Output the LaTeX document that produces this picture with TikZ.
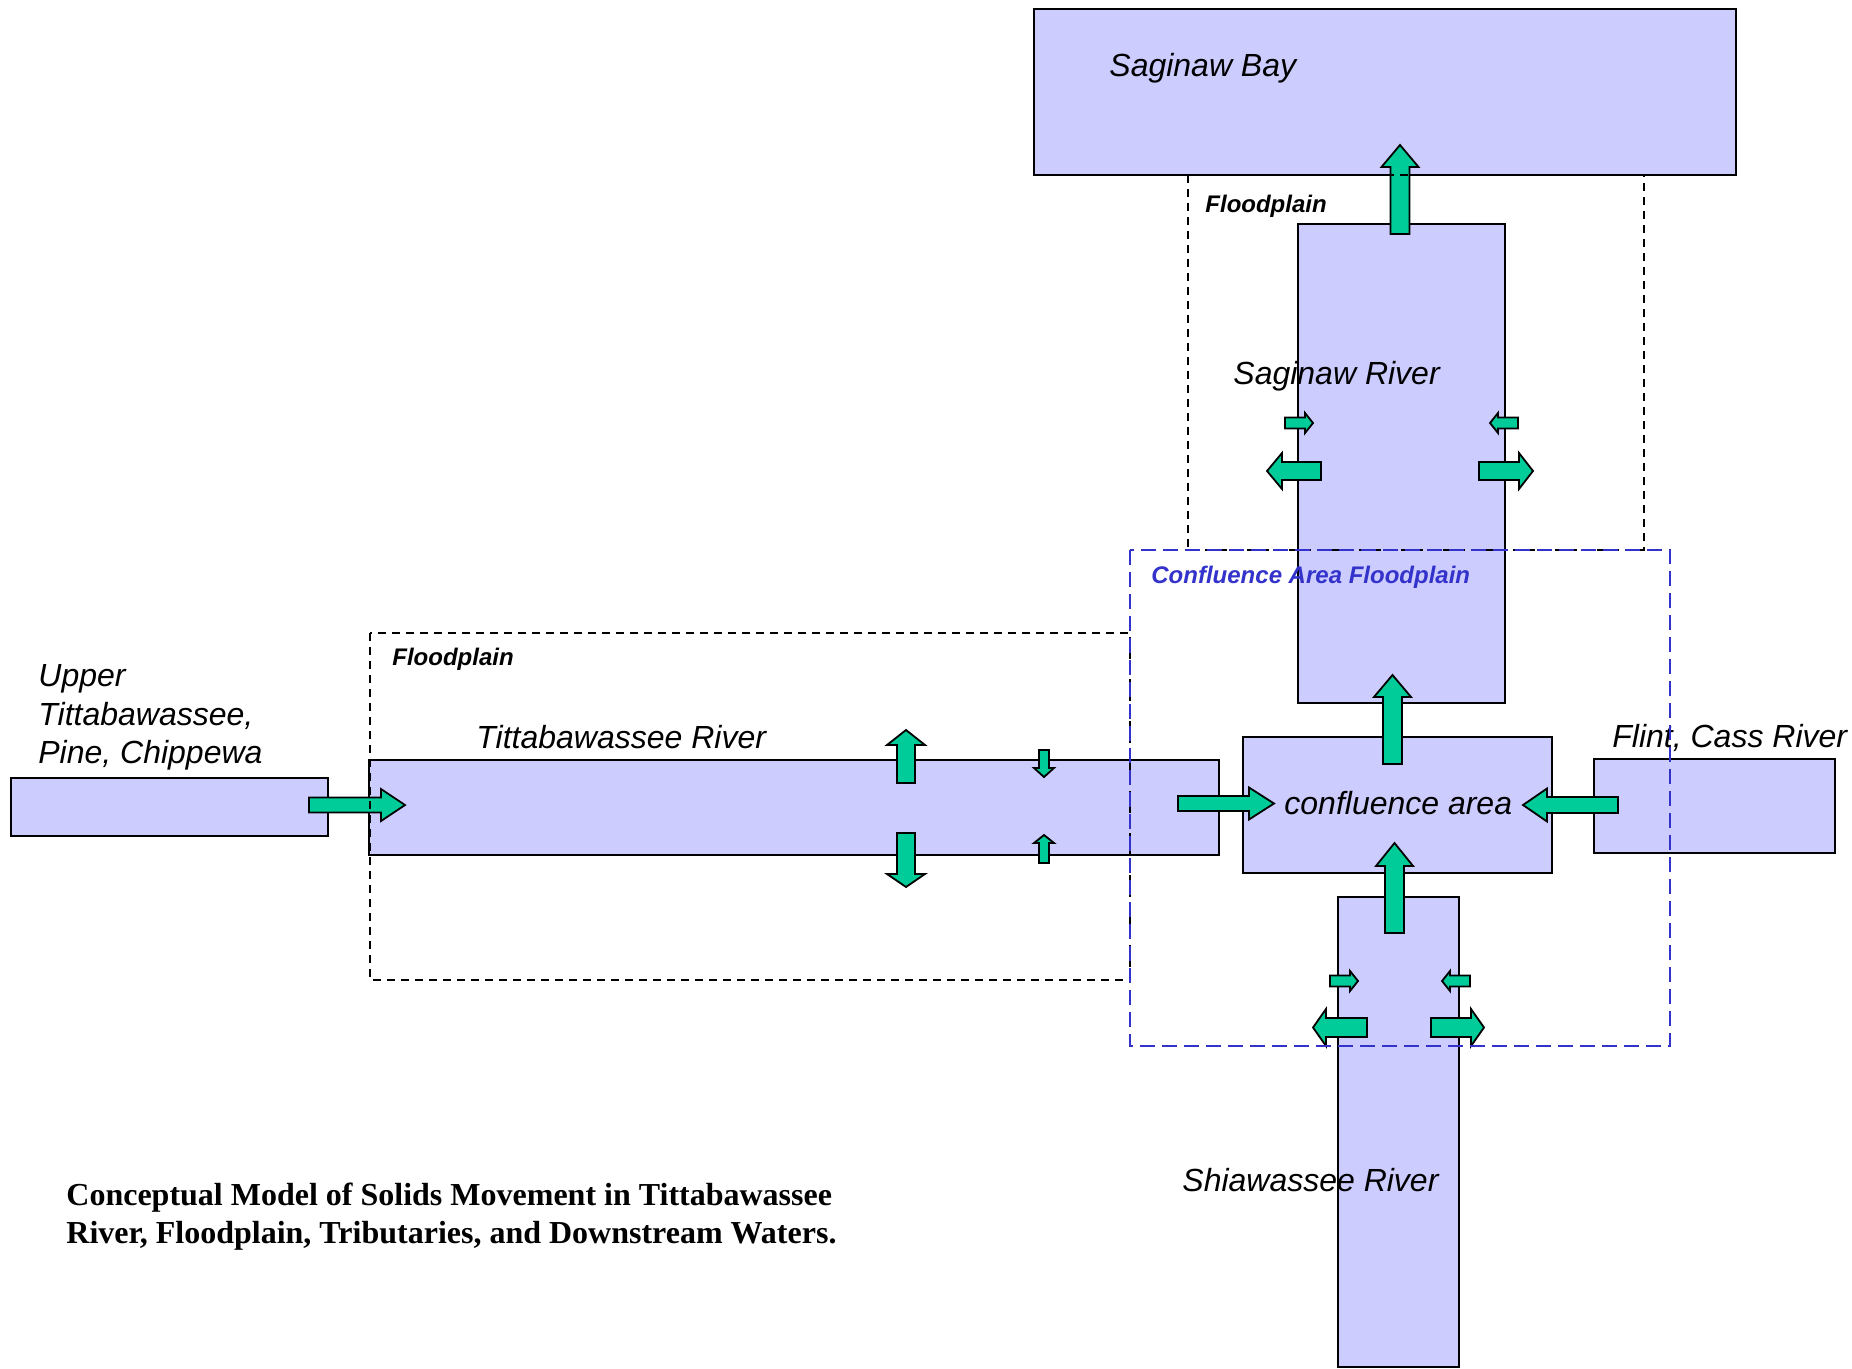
\documentclass[tikz,border=0pt]{standalone}
\usepackage{fontspec}
\setmainfont{Liberation Sans}
\newfontfamily\capfont{Liberation Serif}
\definecolor{boxfill}{HTML}{CCCCFF}
\definecolor{arrowgreen}{HTML}{00CC99}
\definecolor{fpblue}{HTML}{3333CC}
\tikzset{
  riverbox/.style={draw=black, fill=boxfill, line width=1pt, inner sep=0pt, outer sep=0pt},
  arrowfill/.style={draw=black, fill=arrowgreen, line width=0.9pt, line join=miter},
  fpblack/.style={draw=black, line width=0.9pt, dash pattern=on 3.8pt off 3.2pt},
  fpblueline/.style={draw=fpblue, line width=1.1pt, dash pattern=on 7.5pt off 3.5pt},
  lbl/.style={inner sep=0pt, anchor=base west, font=\fontsize{16}{19}\selectfont\itshape},
  fplbl/.style={inner sep=0pt, anchor=base west, font=\fontsize{12}{14}\selectfont\bfseries\itshape},
  caplbl/.style={inner sep=0pt, anchor=base west, font=\fontsize{16}{19}\selectfont\capfont\bfseries}
}
% #1 name, #2 x1, #3 y1, #4 x2, #5 y2  (pixel coords, y down)
\newcommand\rbox[5]{\node[riverbox, minimum width={(#4-#2)*0.5pt}, minimum height={(#5-#3)*0.5pt}] (#1) at ({(#2+#4)/2},{(#3+#5)/2}) {};}
% #1 tail coord, #2 angle, #3 length, #4 shaft width, #5 head width, #6 head length
\newcommand\barrow[6]{\begin{scope}[shift={#1},rotate=#2]
\draw[arrowfill] (0,{-#4/2}) -- ({#3-#6},{-#4/2}) -- ({#3-#6},{-#5/2}) -- (#3,0) -- ({#3-#6},{#5/2}) -- ({#3-#6},{#4/2}) -- (0,{#4/2}) -- cycle;
\end{scope}}
\begin{document}
\begin{tikzpicture}[x=0.5pt,y=-0.5pt]
\useasboundingbox (0,0) rectangle (1852,1369);
% boxes
\rbox{bay}{1034}{9}{1736}{175}
\rbox{sagr}{1298}{224}{1505}{703}
\rbox{upper}{11}{778}{328}{836}
\rbox{titt}{369}{760}{1219}{855}
\rbox{conf}{1243}{737}{1552}{873}
\rbox{flint}{1594}{759}{1835}{853}
\rbox{shia}{1338}{897}{1459}{1367}
% arrows
\barrow{(1400,234)}{90}{89}{19}{37}{22}
\barrow{(1285,423)}{0}{28}{11}{20}{8}
\barrow{(1518,423)}{180}{28}{11}{20}{8}
\barrow{(1321,471)}{180}{54}{18}{36}{15}
\barrow{(1479,471)}{0}{54}{18}{36}{14}
\barrow{(309,805)}{0}{96}{15}{32}{24}
\barrow{(906,783)}{90}{53}{18}{38}{15}
\barrow{(906,833)}{-90}{54}{18}{38}{13}
\barrow{(1044,750)}{-90}{27}{10}{20}{9}
\barrow{(1044,863)}{90}{28}{10}{20}{8}
\barrow{(1178,803.5)}{0}{96}{15}{32}{25}
\barrow{(1618,805)}{180}{95}{16}{33}{24}
\barrow{(1392.5,764)}{90}{89}{19}{37}{22}
\barrow{(1394.5,933)}{90}{90}{19}{37}{23}
\barrow{(1330,981)}{0}{28}{11}{20}{8}
\barrow{(1470,981)}{180}{28}{11}{20}{8}
\barrow{(1367,1027.5)}{180}{54}{19}{37}{13}
\barrow{(1431,1027.5)}{0}{53}{19}{37}{13}
% labels
\node[lbl] (tbay) at (1109,77) {Saginaw Bay};
\node[lbl] (tsagr) at (1233,385) {Saginaw River};
\node[lbl] (ttitt) at (476,748) {Tittabawassee River};
\node[lbl] (tconf) at (1284,814) {confluence area};
\node[lbl] (tflint) at (1612,747) {Flint, Cass River};
\node[lbl] (tshia) at (1182,1191) {Shiawassee River};
\node[lbl] (tup1) at (38,686) {Upper};
\node[lbl] (tup2) at (38,725) {Tittabawassee,};
\node[lbl] (tup3) at (38,763) {Pine, Chippewa};
\node[fplbl] (tfp1) at (1205,213) {Floodplain};
\node[fplbl] (tfp2) at (392,665) {Floodplain};
\node[fplbl, text=fpblue] (tfp3) at (1151,583) {Confluence Area Floodplain};
\node[caplbl] (cap1) at (66,1205) {Conceptual Model of Solids Movement in Tittabawassee};
\node[caplbl] (cap2) at (66,1243) {River, Floodplain, Tributaries, and Downstream Waters.};
% floodplain outlines
\draw[fpblack] (1188,175) rectangle (1644,550);
\draw[fpblack] (370,633) rectangle (1130,980);
\draw[fpblueline] (1130,550) rectangle (1670,1046);
\end{tikzpicture}
\end{document}
